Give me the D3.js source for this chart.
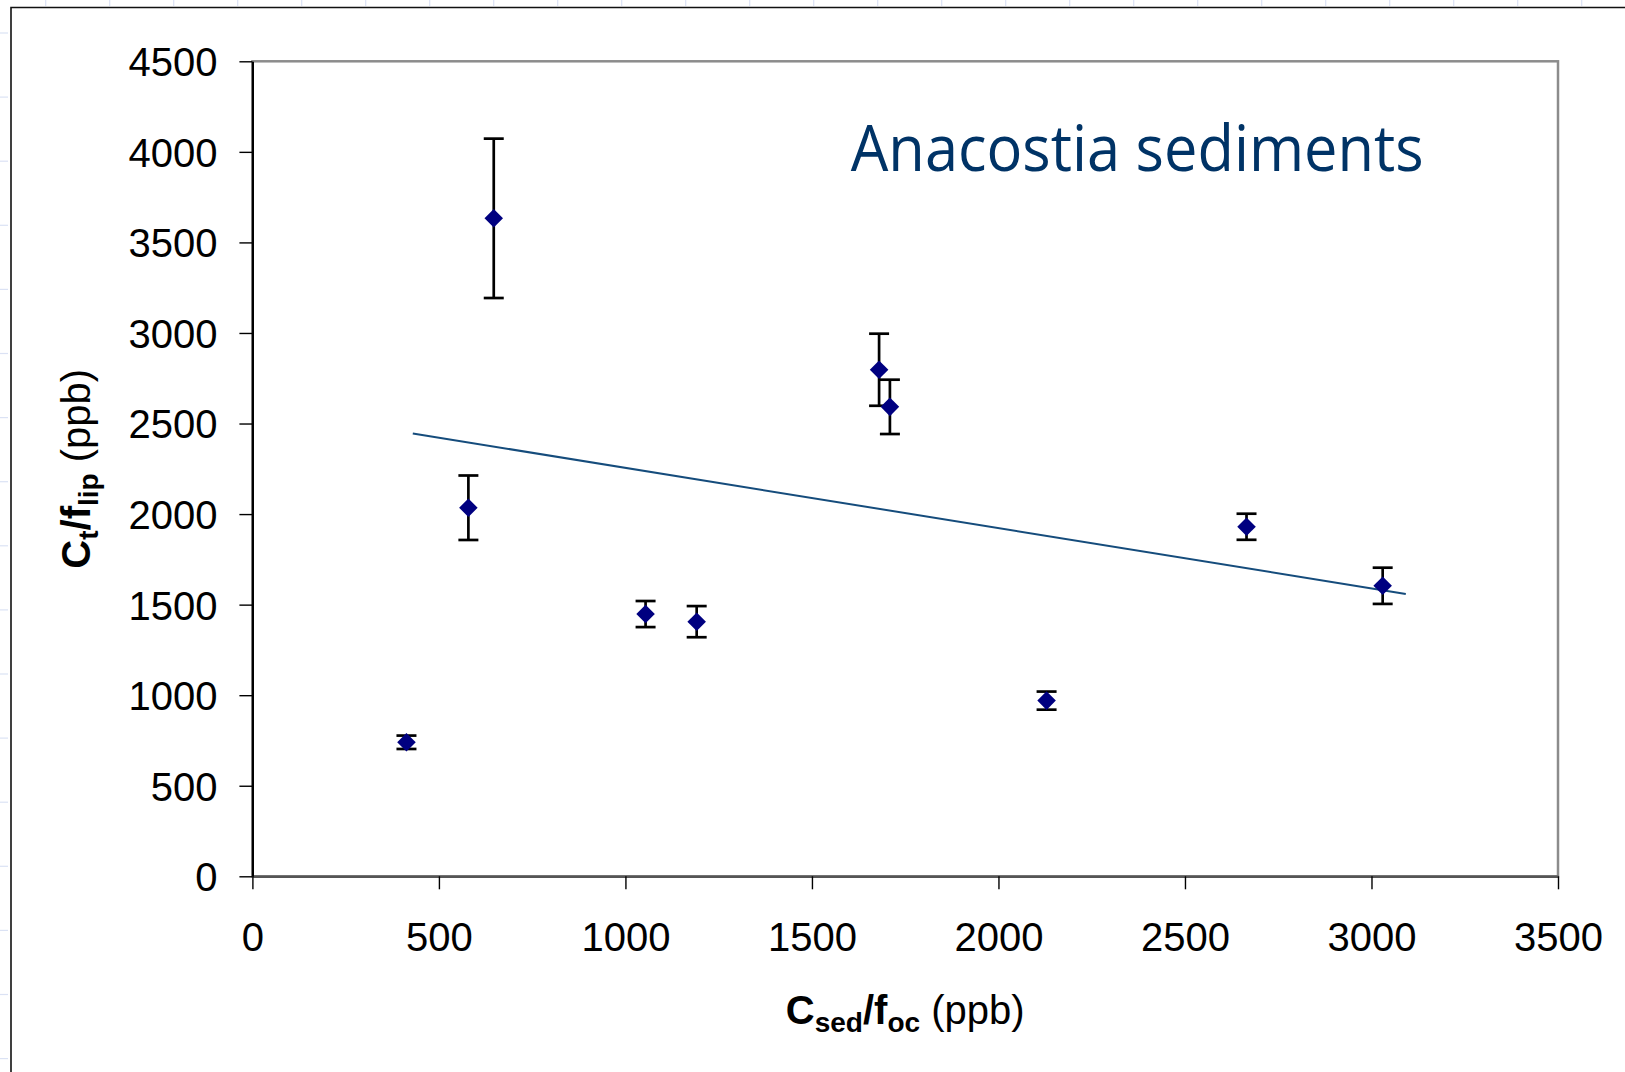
<!DOCTYPE html>
<html>
<head>
<meta charset="utf-8">
<script src="https://cdn.jsdelivr.net/npm/d3@7/dist/d3.min.js"></script>
<style>
  html, body { margin: 0; padding: 0; background: #ffffff; }
  svg { display: block; }
</style>
</head>
<body>
<svg id="chart" width="1625" height="1072"></svg>
<script>
// ---- data ----
const xValues   = [413, 579, 647, 1054, 1191, 1680, 1709, 2129, 2665, 3030];
const yValues   = [740, 2035, 3633, 1448, 1406, 2797, 2592, 970, 1930, 1604];
const yErrors   = [37, 178, 440, 72, 86, 199, 150, 50, 72, 100];
const trendX    = [430, 3092];
const trendY    = [2445, 1559];
const xTicks    = [0, 500, 1000, 1500, 2000, 2500, 3000, 3500];
const yTicks    = [0, 500, 1000, 1500, 2000, 2500, 3000, 3500, 4000, 4500];
const titleText = "Anacostia sediments";

const svg = d3.select("#chart");
const W = 1625, H = 1072;
const pLeft = 252.4, pRight = 1558, pTop = 61.3, pBottom = 876.3;

const x = d3.scaleLinear().domain([0, 3500]).range([pLeft, pRight]);
const y = d3.scaleLinear().domain([0, 4500]).range([pBottom, pTop]);

const FONT = "'Liberation Sans', Arial, Helvetica, sans-serif";
const fmt = d3.format("d");

// faint background ruler marks
const bg = svg.append("g");
d3.range(45.7, W, 64).forEach(px => {
  bg.append("line").attr("x1", px).attr("x2", px).attr("y1", 0).attr("y2", 6)
    .attr("stroke", "#dbe2f4").attr("stroke-width", 1.2);
});
d3.range(33, H, 64.1).forEach(py => {
  bg.append("line").attr("x1", 0).attr("x2", 8).attr("y1", py).attr("y2", py)
    .attr("stroke", "#dbe2f4").attr("stroke-width", 1.2);
});

// outer frame
svg.append("path")
  .attr("d", `M11,${H + 2} L11,7.5 L${W + 2},7.5`)
  .attr("fill", "none").attr("stroke", "#111").attr("stroke-width", 1.6);

// plot area border
svg.append("rect")
  .attr("x", pLeft).attr("y", pTop)
  .attr("width", pRight - pLeft).attr("height", pBottom - pTop)
  .attr("fill", "#ffffff").attr("stroke", "#8c8c8c").attr("stroke-width", 2.5);

// axes
const xAxis = d3.axisBottom(x).tickValues(xTicks).tickFormat(fmt)
  .tickSize(13).tickPadding(33).tickSizeOuter(0);
const gx = svg.append("g").attr("transform", `translate(0,${pBottom})`).call(xAxis);
gx.select(".domain").attr("stroke", "#555").attr("stroke-width", 2.5);
gx.selectAll(".tick line").attr("stroke", "#000").attr("stroke-width", 1.4);
gx.selectAll(".tick text").attr("font-family", FONT).attr("font-size", 40).attr("fill", "#000");

const yAxis = d3.axisLeft(y).tickValues(yTicks).tickFormat(fmt)
  .tickSize(13).tickPadding(22).tickSizeOuter(0);
const gy = svg.append("g").attr("transform", `translate(${pLeft},0)`).call(yAxis);
gy.select(".domain").attr("stroke", "#000").attr("stroke-width", 2.2);
gy.selectAll(".tick line").attr("stroke", "#000").attr("stroke-width", 1.4);
gy.selectAll(".tick text").attr("font-family", FONT).attr("font-size", 40).attr("fill", "#000")
  .attr("dy", "0.36em");

// trend line
svg.append("line")
  .attr("x1", x(trendX[0])).attr("y1", y(trendY[0]))
  .attr("x2", x(trendX[1])).attr("y2", y(trendY[1]))
  .attr("stroke", "#154c7c").attr("stroke-width", 2);

// error bars
const pts = xValues.map((v, i) => ({ x: v, y: yValues[i], e: yErrors[i] }));
const eb = svg.append("g").attr("stroke", "#000").attr("stroke-width", 2.7).attr("fill", "none");
pts.forEach(d => {
  const cx = x(d.x), y1 = y(d.y + d.e), y2 = y(d.y - d.e);
  eb.append("line").attr("x1", cx).attr("x2", cx).attr("y1", y1).attr("y2", y2);
  eb.append("line").attr("x1", cx - 10).attr("x2", cx + 10).attr("y1", y1).attr("y2", y1);
  eb.append("line").attr("x1", cx - 10).attr("x2", cx + 10).attr("y1", y2).attr("y2", y2);
});

// diamond markers
const diamond = d3.symbol().type(d3.symbolSquare).size(172);
svg.append("g").selectAll("path").data(pts).join("path")
  .attr("d", diamond)
  .attr("transform", d => `translate(${x(d.x)},${y(d.y)}) rotate(45)`)
  .attr("fill", "#000080");

// title inside plot
svg.append("text")
  .attr("x", 850.7).attr("y", 171)
  .attr("font-family", "'Open Sans', 'Noto Sans', sans-serif")
  .attr("font-size", 64)
  .attr("fill", "#003366")
  .attr("textLength", 573).attr("lengthAdjust", "spacingAndGlyphs")
  .text(titleText);

// x axis title: C_sed/f_oc (ppb)
const xt = svg.append("text")
  .attr("x", (pLeft + pRight) / 2).attr("y", 1024)
  .attr("text-anchor", "middle")
  .attr("font-family", FONT).attr("font-size", 40).attr("fill", "#000");
xt.append("tspan").attr("font-weight", "bold").text("C");
xt.append("tspan").attr("font-weight", "bold").attr("font-size", 28).attr("dy", 8).text("sed");
xt.append("tspan").attr("font-weight", "bold").attr("dy", -8).text("/f");
xt.append("tspan").attr("font-weight", "bold").attr("font-size", 28).attr("dy", 8).text("oc");
xt.append("tspan").attr("dy", -8).text(" (ppb)");

// y axis title: C_t/f_lip (ppb)
const yt = svg.append("text")
  .attr("transform", `translate(90,${(pTop + pBottom) / 2}) rotate(-90)`)
  .attr("text-anchor", "middle")
  .attr("font-family", FONT).attr("font-size", 40).attr("fill", "#000");
yt.append("tspan").attr("font-weight", "bold").text("C");
yt.append("tspan").attr("font-weight", "bold").attr("font-size", 28).attr("dy", 8).text("t");
yt.append("tspan").attr("font-weight", "bold").attr("dy", -8).text("/f");
yt.append("tspan").attr("font-weight", "bold").attr("font-size", 28).attr("dy", 8).text("lip");
yt.append("tspan").attr("dy", -8).text(" (ppb)");
</script>
</body>
</html>
